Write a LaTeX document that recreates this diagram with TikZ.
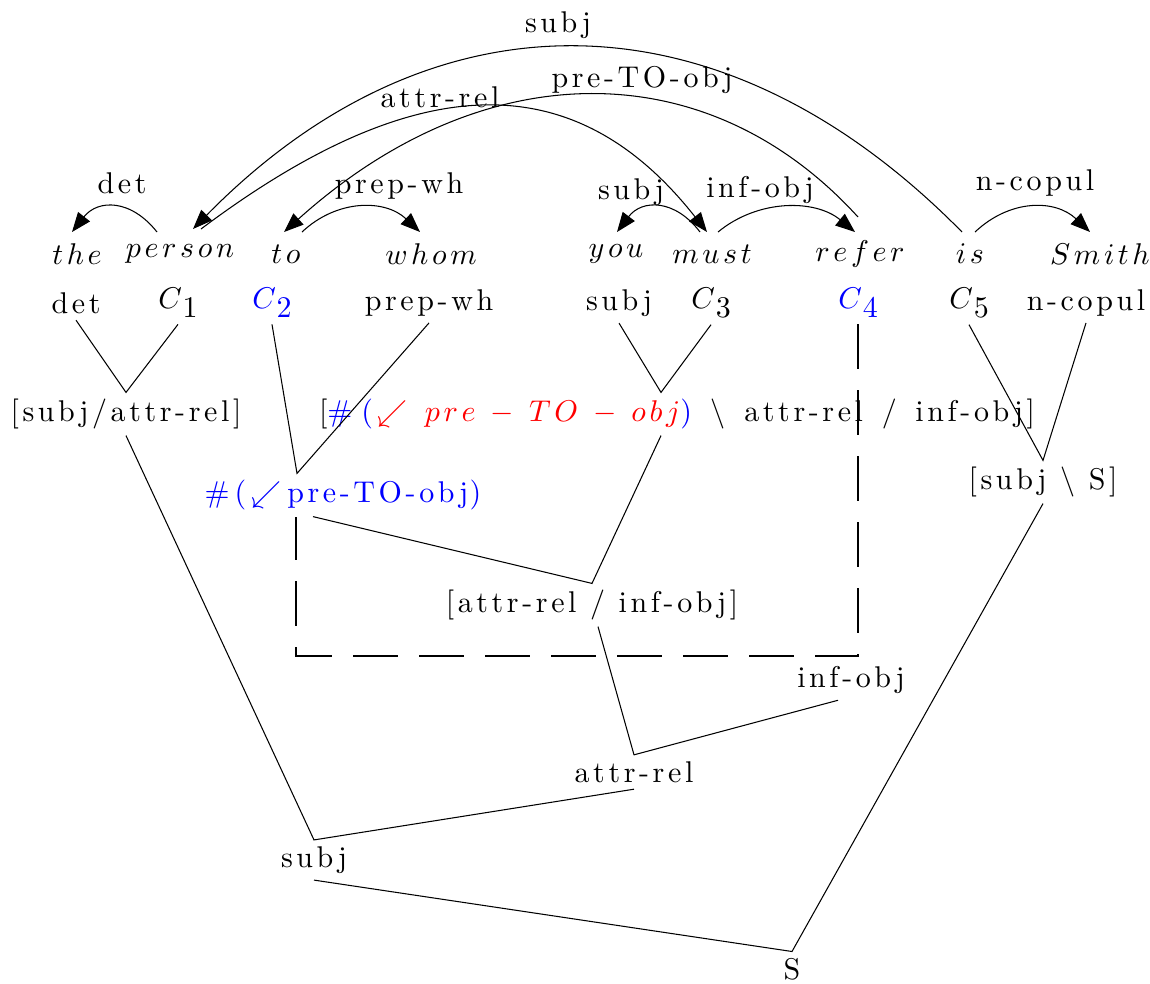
\documentclass[tikz,border=0pt]{standalone}
\usepackage{fontspec}
\usetikzlibrary{arrows.meta,calc}
\newfontfamily\ls{lmroman10-regular.otf}[LetterSpace=12]
\newcommand\kk{\mkern2.2mu}
\newcommand\Csub[1]{$C$\kern0.3pt\raisebox{-3pt}{#1}}
\newcommand\sps{\ \kern1.7pt}
\definecolor{myblue}{RGB}{0,0,255}
\definecolor{myred}{RGB}{255,0,0}
\begin{document}
\begin{tikzpicture}[x=0.3333pt,y=-0.3333pt,
  every node/.style={font=\ls, inner sep=2pt},
  tl/.style={line width=0.35pt},
  arc/.style={line width=0.35pt,-{Triangle[length=6.5pt,width=5pt]}},
  dl/.style={line width=0.35pt,dash pattern=on 15pt off 7pt},
  lbl/.style={anchor=base}]
\useasboundingbox (0,0) rectangle (1150,983);

% words
\node (the) at (77,254) {$t\kk h\kk e$};
\node (person) at (180,254) {$p\kk e\kk r\kk s\kk o\kk n$};
\node (wto) at (286,254) {$t\kk o$};
\node (whom) at (431,254) {$w\kk h\kk o\kk m$};
\node (you) at (616,254) {$y\kk o\kk u$};
\node (must) at (712,254) {$m\kk u\kk s\kk t$};
\node (refer) at (860,254) {$r\kk e\kk f\kk e\kk r$};
\node (wis) at (970,254) {$i\kk s$};
\node (smith) at (1100,254) {$S\kk m\kk i\kk t\kk h$};

% categories
\node (det) at (76,303) {det};
\node (c1) at (178,303) {\Csub{1}};
\node[text=myblue] (c2) at (272,303) {\Csub{2}};
\node (pw) at (429,303) {prep-wh};
\node (sj) at (619,303) {subj};
\node (c3) at (711,303) {\Csub{3}};
\node[text=myblue] (c4) at (858,303) {\Csub{4}};
\node (c5) at (969,303) {\Csub{5}};
\node (nc) at (1086,303) {n-copul};

% derived
\node (sa) at (126,414) {[subj/attr-rel]};
\node (bb) at (677,414) {[{\color{myblue}$\#\mkern5.4mu($}\kern1.5pt{\color{myred}$\swarrow\mkern5.4mu p\kk r\kk e\;-\;T\kk O\;-\;o\kk b\kk j$}{\color{myblue}$)$}\sps$\backslash$\sps attr-rel\sps/\sps inf-obj]};
\node[text=myblue] (pto) at (343,495) {$\#\mkern3mu(\mkern3mu\swarrow$\kern2pt pre-TO-obj\kern0.5pt$)$};
\node (sq) at (1043,482) {[subj $\backslash$ S]};
\node (ai) at (592,605) {[attr-rel / inf-obj]};
\node (io) at (851,680) {inf-obj};
\node (ar) at (634,772) {attr-rel};
\node (sb) at (314,860) {subj};
\node (S) at (792,969) {S};

% arc labels
\node[lbl] (lsubj) at (558,32) {subj};
\node[lbl] (lattr) at (440,107) {attr-rel};
\node[lbl] (lpto) at (642,87) {pre-TO-obj};
\node[lbl] (ldet) at (122,193) {det};
\node[lbl] (lpw) at (399,193) {prep-wh};
\node[lbl] (lsj) at (631,199) {subj};
\node[lbl] (lio) at (760,197) {inf-obj};
\node[lbl] (lnc) at (1035,190) {n-copul};

% dependency arcs
\draw[arc] ($(person)+(-23,-22)$) .. controls +(-26,-33) and +(26,-33) .. ($(the)+(-5,-22)$);
\draw[arc] ($(wto)+(16,-22)$) .. controls +(35,-33) and +(-35,-33) .. ($(whom)+(-11,-22)$);
\draw[arc] ($(must)+(-12,-22)$) .. controls +(-25,-33) and +(25,-33) .. ($(you)+(1,-22)$);
\draw[arc] ($(must)+(6,-22)$) .. controls +(40,-33) and +(-40,-33) .. ($(refer)+(-5,-22)$);
\draw[arc] ($(wis)+(5,-22)$) .. controls +(35,-33) and +(-35,-33) .. ($(smith)+(-10,-22)$);
\draw[arc] ($(wis)+(-8,-22)$) .. controls +(-240,-244) and +(240,-244) .. ($(person)+(13,-25)$);
\draw[arc] ($(person)+(21,-25)$) .. controls +(220,-165) and +(-130,-165) .. ($(must)+(-5,-22)$);
\draw[arc] ($(refer)+(-2,-37)$) .. controls +(-150,-165) and +(200,-180) .. ($(wto)+(-2,-22)$);

% tree lines
\draw[tl] (det.south) -- (sa.north) -- (c1.south);
\draw[tl] (sa.south) -- (sb.north) -- (ar.south);
\draw[tl] (sb.south) -- (S.north) -- (sq.south);
\draw[tl] (c2.south) -- ($(pto.north)+(-46,0)$) -- (pw.south);
\draw[tl] (sj.south) -- ($(bb.north)+(-16,0)$) -- (c3.south);
\draw[tl] ($(bb.south)+(-16,0)$) -- (ai.north) -- ($(pto.south)+(-30,0)$);
\draw[tl] ($(ai.south)+(6,0)$) -- (ar.north) -- ($(io.south)+(-13,0)$);
\draw[tl] (c5.south) -- (sq.north) -- (nc.south);

% dashed frame
\coordinate (dc) at (296,656);
\draw[dl] (c4.south) -- (c4.south |- dc) -- (dc) -- (pto.south -| dc);
\end{tikzpicture}
\end{document}
